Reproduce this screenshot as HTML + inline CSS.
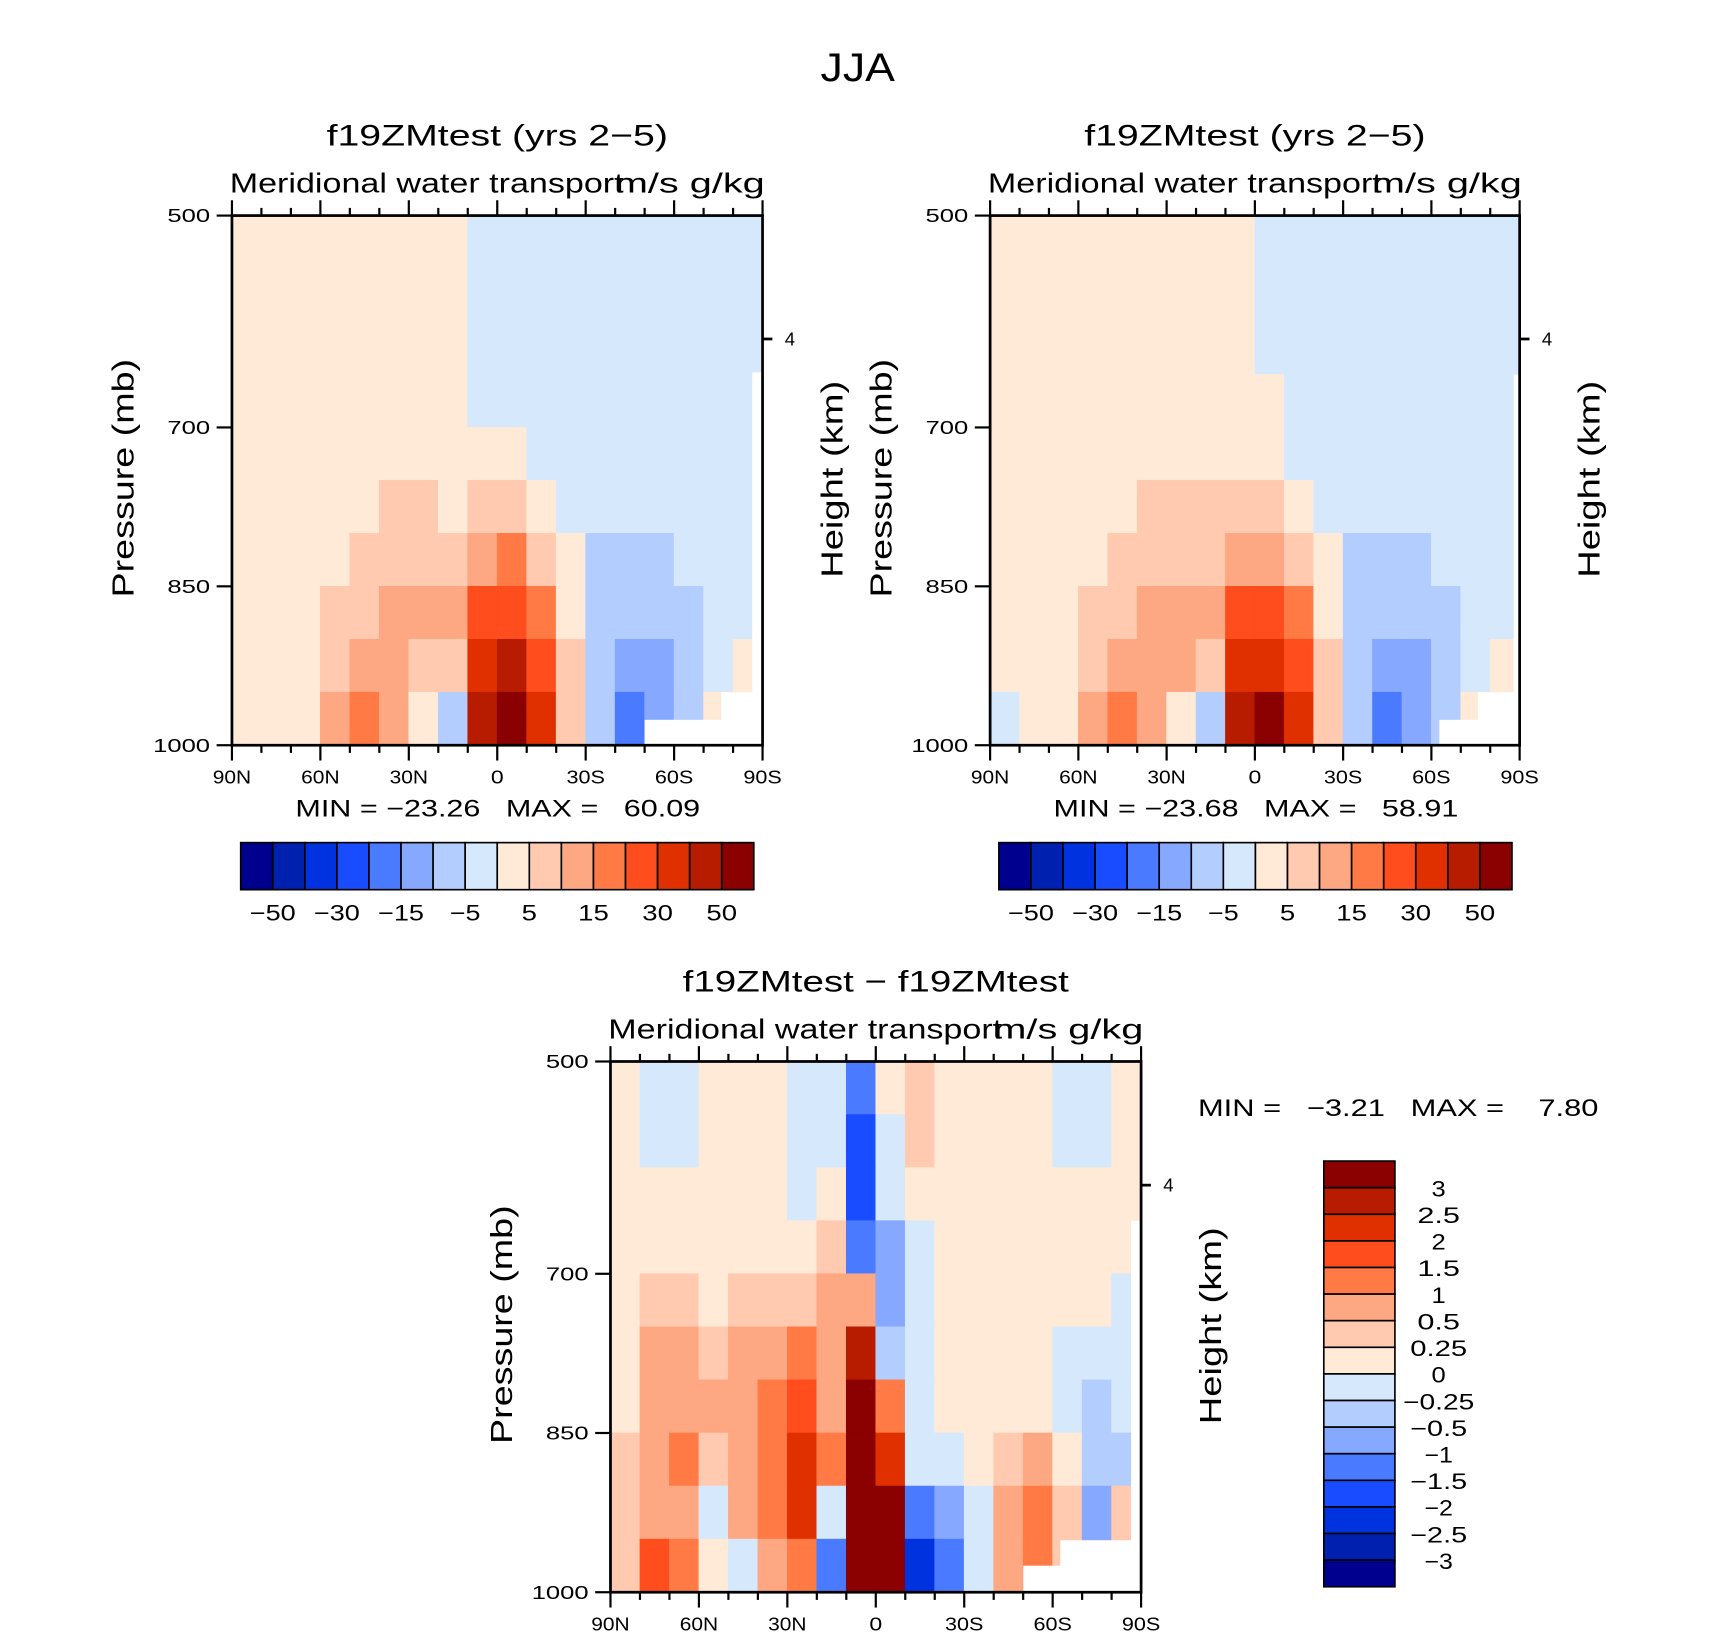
<!DOCTYPE html>
<html><head><meta charset="utf-8"><style>
html,body{margin:0;padding:0;background:#fff;}
svg{display:block;font-family:"Liberation Sans",sans-serif;}
text{white-space:pre;}
</style></head><body>
<svg id="fig" width="1710" height="1636" viewBox="0 0 1563 1495" preserveAspectRatio="none" xmlns="http://www.w3.org/2000/svg">
<rect x="0" y="0" width="1563" height="1495" fill="#fff"/>
<text x="784" y="74" font-size="36" text-anchor="middle" textLength="68" lengthAdjust="spacingAndGlyphs">JJA</text>
</svg>
<script>
// ---- data ----
const latCols = [90,80,70,60,50,40,30,20,10,0,-10,-20,-30,-40,-50,-60,-70,-80];
const presRows = [500,550,600,650,700,750,800,850,900,950];
const colors = ["#00008f","#0020b0","#0032e0","#1a4cff","#4a7aff","#87a8ff","#b4cdff","#d6e8fb","#ffead8","#ffcab0","#fda882","#ff7a45","#ff4d1e","#e03000","#b81c00","#8b0000"];
const levelsAbs = [-50,-40,-30,-20,-15,-10,-5,0,5,10,15,20,30,40,50];
const levelsDiff = [-3,-2.5,-2,-1.5,-1,-0.5,-0.25,0,0.25,0.5,1,1.5,2,2.5,3];
const absTickLabels = ["-50","-30","-15","-5","5","15","30","50"];
const diffTickLabels = ["3","2.5","2","1.5","1","0.5","0.25","0","-0.25","-0.5","-1","-1.5","-2","-2.5","-3"];

const panel1 = [
 [2,2,2,2,2,2,2,2,-2,-2,-2,-2,-2,-2,-2,-2,-2,-2],
 [2,2,2,2,2,2,2,2,-2,-2,-2,-2,-2,-2,-2,-2,-2,-2],
 [2,2,2,2,2,2,2,2,-2,-2,-2,-2,-2,-2,-2,-2,-2,-2],
 [2,2,2,2,2,2,2,2,-1,-2,-2,-2,-2,-2,-2,-2,-2,-2],
 [2,2,2,2,2,3,3,2,3,2,-2,-2,-2,-2,-2,-2,-2,-2],
 [2,2,2,2,3,6,6,4,8,8,3,-2,-3,-3,-2,-2,-2,-2],
 [2,2,2,3,6,7,7,6,12,15,8,2,-7,-7,-7,-4,-2,-2],
 [2,2,2,6,8,11,12,10,25,28,16,4,-7,-8,-7,-7,-3,-2],
 [2,2,3,7,12,12,9,8,38,40,25,8,-8,-13,-12,-8,-2,2],
 [2,2,3,12,17,10,4,-10,45,55,35,8,-8,-16,-12,-7,2,2]
];
const panel2 = [
 [2,2,2,2,2,2,2,2,2,-2,-2,-2,-2,-2,-2,-2,-2,-2],
 [2,2,2,2,2,2,2,2,2,-2,-2,-2,-2,-2,-2,-2,-2,-2],
 [2,2,2,2,2,2,2,2,2,-2,-2,-2,-2,-2,-2,-2,-2,-2],
 [2,2,2,2,2,2,2,2,2,2,-2,-2,-2,-2,-2,-2,-2,-2],
 [2,2,2,2,2,3,3,3,3,3,-2,-2,-2,-2,-2,-2,-2,-2],
 [2,2,2,2,3,6,6,6,7,8,3,-2,-3,-3,-3,-2,-2,-2],
 [2,2,2,3,6,7,7,7,12,14,8,2,-7,-7,-7,-4,-2,-2],
 [2,2,2,6,8,10,11,10,25,27,16,4,-7,-8,-7,-7,-3,-2],
 [2,2,3,7,11,12,10,8,37,38,24,7,-9,-13,-12,-8,-2,2],
 [-2,2,3,12,17,11,4,-10,44,52,33,8,-8,-16,-12,-7,2,2]
];
const panel3 = [
 [0.1,-0.1,-0.1,0.1,0.1,0.1,-0.1,-0.1,-1.5,0.1,0.3,0.1,0.1,0.1,0.1,-0.1,-0.1,0.1],
 [0.1,-0.1,-0.1,0.1,0.1,0.1,-0.1,-0.1,-2.0,-0.1,0.3,0.1,0.1,0.1,0.1,-0.1,-0.1,0.1],
 [0.1,0.1,0.1,0.1,0.1,0.1,-0.1,0.1,-1.7,-0.2,0.1,0.1,0.1,0.1,0.1,0.1,0.1,0.1],
 [0.1,0.1,0.1,0.1,0.1,0.1,0.1,0.3,-1.2,-0.7,-0.1,0.1,0.1,0.1,0.1,0.1,0.1,0.1],
 [0.1,0.3,0.3,0.1,0.3,0.3,0.35,0.5,0.8,-0.7,-0.1,0.1,0.1,0.1,0.1,0.1,0.1,-0.1],
 [0.1,0.5,0.5,0.3,0.5,0.5,1.2,0.5,2.5,-0.35,-0.1,0.1,0.1,0.1,0.1,-0.1,-0.2,-0.1],
 [0.1,0.7,0.8,0.5,0.8,1.2,1.8,0.8,3.5,1.2,-0.1,0.1,0.1,0.1,0.1,-0.1,-0.35,-0.2],
 [0.3,0.7,1.2,0.3,0.7,1.2,2.2,1.2,3.5,2.2,-0.2,-0.1,0.1,0.3,0.5,0.1,-0.3,-0.3],
 [0.3,0.8,0.7,-0.2,0.5,1.2,2.0,-0.2,3.5,3.5,-1.2,-0.7,-0.2,0.7,1.2,0.3,-0.8,0.3],
 [0.3,1.5,1.3,0.2,-0.2,0.5,1.2,-1.2,3.5,3.5,-2.5,-1.2,-0.2,0.7,1.2,0.3,-0.8,0.3]
];
// masks: [latitude where missing region starts, top pressure]; extend to 90S / 1000 mb
const mask1 = [[-50,976],[-76,950],[-86.5,648]];
const mask2 = [[-62.7,976],[-75.8,950],[-88,650]];
const mask3 = [[-50,975],[-62.6,951],[-86.6,650]];

const NS = "http://www.w3.org/2000/svg";
const svg = document.getElementById('fig');
function el(tag, attrs, parent){
  const e = document.createElementNS(NS, tag);
  for (const k in attrs) e.setAttribute(k, attrs[k]);
  (parent||svg).appendChild(e);
  return e;
}
function colorFor(v, lv){ let i=0; while(i<lv.length && v>=lv[i]) i++; return colors[i]; }
function latLabel(l){ return l===0?"0":(Math.abs(l)+(l>0?"N":"S")); }

function drawPanel(P){
  const g = el('g',{});
  
  
  const x0=P.x, y0=P.y, w=P.w, h=P.h;
  const xOf = lat => x0 + (90-lat)/180*w;
  const yOf = p => y0 + (p-500)/500*h;
  for (let j=0;j<presRows.length;j++){
    for (let i=0;i<latCols.length;i++){
      const v = P.grid[j][i];
      const c = colorFor(v, P.levels);
      const xa = xOf(latCols[i]), xb = xOf(latCols[i]-10);
      const ya = yOf(presRows[j]), yb = yOf(presRows[j]+50);
      const r = el('rect',{x:xa,y:ya,width:xb-xa,height:yb-ya,fill:c,stroke:c,'stroke-width':0.6},g);
      
      
    }
  }
  P.mask.forEach(m=>{
    const r = el('rect',{x:xOf(m[0]),y:yOf(m[1]),width:xOf(-90)-xOf(m[0]),height:yOf(1000)-yOf(m[1]),fill:'#fff'},g);
    
    
  });
  const f = el('rect',{x:x0,y:y0,width:w,height:h,fill:'none',stroke:'#000','stroke-width':2.5},g);
  
  
  for (let lat=90; lat>=-90; lat-=10){
    const major = lat%30===0;
    const len = major?14:7;
    const x = xOf(lat);
    el('line',{x1:x,y1:y0+h,x2:x,y2:y0+h+len,stroke:'#000','stroke-width':2},g);
    el('line',{x1:x,y1:y0,x2:x,y2:y0-len,stroke:'#000','stroke-width':2},g);
    if (major){
      const s = latLabel(lat);
      const t = el('text',{x:x,y:y0+h+35,'font-size':17,'text-anchor':'middle',textLength:s.length*11.7,lengthAdjust:'spacingAndGlyphs'},g);
      t.textContent = s;
      
      
    }
  }
  [500,700,850,1000].forEach(p=>{
    const y=yOf(p);
    el('line',{x1:x0-14,y1:y,x2:x0,y2:y,stroke:'#000','stroke-width':2},g);
    const s = String(p);
    const t = el('text',{x:x0-20,y:y+6,'font-size':17,'text-anchor':'end',textLength:s.length*13,lengthAdjust:'spacingAndGlyphs'},g);
    t.textContent = s;
    
    
  });
  const y4 = yOf(616.5);
  el('line',{x1:x0+w,y1:y4,x2:x0+w+9,y2:y4,stroke:'#000','stroke-width':2.5},g);
  const t4 = el('text',{x:x0+w+25,y:y4+6,'font-size':17,'text-anchor':'middle'},g);
  t4.textContent='4';
  
  
  const tt = el('text',{x:x0+w/2,y:y0-64,'font-size':27,'text-anchor':'middle',textLength:P.titleLen,lengthAdjust:'spacingAndGlyphs'},g);
  tt.textContent = P.title;
  
  
  const st = el('text',{x:x0-2,y:y0-21,'font-size':25,'text-anchor':'start',textLength:360,lengthAdjust:'spacingAndGlyphs'},g);
  st.textContent = 'Meridional water transport';
  
  
  const un = el('text',{x:x0+w+2,y:y0-21,'font-size':25,'text-anchor':'end',textLength:137,lengthAdjust:'spacingAndGlyphs'},g);
  un.textContent = 'm/s g/kg';
  
  
  const yl = el('text',{x:0,y:0,'font-size':28,'text-anchor':'middle',textLength:218,lengthAdjust:'spacingAndGlyphs',transform:`translate(${x0-90},${y0+h/2-2}) rotate(-90)`},g);
  yl.textContent='Pressure (mb)';
  
  
  const hl = el('text',{x:0,y:0,'font-size':28,'text-anchor':'middle',textLength:180,lengthAdjust:'spacingAndGlyphs',transform:`translate(${x0+w+73},${y0+h/2-1}) rotate(-90)`},g);
  hl.textContent='Height (km)';
  
  
}

function hColorbar(x, y, w, h, mmx, mmText){
  const g = el('g',{});
  
  
  const bw = w/colors.length;
  colors.forEach((c,i)=>{
    const r = el('rect',{x:x+i*bw,y:y,width:bw,height:h,fill:c,stroke:'#000','stroke-width':1.5},g);
    
    
  });
  absTickLabels.forEach((lab,k)=>{
    const t = el('text',{x:x+(2*k+1)*bw,y:y+h+28,'font-size':20,'text-anchor':'middle',textLength:lab.length*14,lengthAdjust:'spacingAndGlyphs'},g);
    t.textContent = lab.replace('-','\u2212');
    
    
  });
  const m = el('text',{x:mmx,y:y-24,'font-size':22,'text-anchor':'middle',textLength:370,lengthAdjust:'spacingAndGlyphs'},g);
  m.textContent = mmText;
  
  
}

drawPanel({name:'panel-model-a',x:212,y:197,w:485,h:484,grid:panel1,levels:levelsAbs,mask:mask1,title:'f19ZMtest (yrs 2\u22125)',titleLen:312});
drawPanel({name:'panel-model-b',x:905,y:197,w:484,h:484,grid:panel2,levels:levelsAbs,mask:mask2,title:'f19ZMtest (yrs 2\u22125)',titleLen:312});
drawPanel({name:'panel-difference',x:558,y:970,w:485,h:485,grid:panel3,levels:levelsDiff,mask:mask3,title:'f19ZMtest \u2212 f19ZMtest',titleLen:353});

hColorbar(220,770,469,43,455,'MIN = \u221223.26   MAX =   60.09');
hColorbar(913,770,469,43,1148,'MIN = \u221223.68   MAX =   58.91');

(function(){
  const g = el('g',{});
  
  
  const x=1210,y=1061,w=65,h=389, bh=h/colors.length;
  for (let i=0;i<colors.length;i++){
    const c = colors[colors.length-1-i];
    const r = el('rect',{x:x,y:y+i*bh,width:w,height:bh,fill:c,stroke:'#000','stroke-width':1.5},g);
    
    
  }
  diffTickLabels.forEach((lab,k)=>{
    const t = el('text',{x:1315,y:y+(k+1)*bh+8,'font-size':20,'text-anchor':'middle',textLength:lab.length*13,lengthAdjust:'spacingAndGlyphs'},g);
    t.textContent = lab.replace('-','\u2212');
    
    
  });
  const m = el('text',{x:1095,y:1020,'font-size':22,'text-anchor':'start',textLength:366,lengthAdjust:'spacingAndGlyphs'},g);
  m.textContent = 'MIN =   \u22123.21   MAX =    7.80';
  
  
})();
</script>
</body></html>
